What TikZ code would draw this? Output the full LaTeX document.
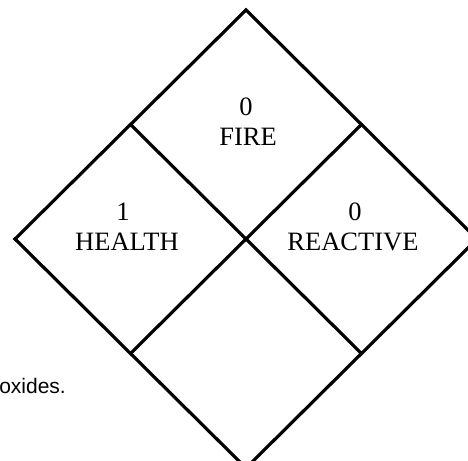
\documentclass[tikz,border=0pt]{standalone}
\usepackage{fontspec}
\usetikzlibrary{calc}
\setmainfont{Liberation Serif}
\newfontfamily\labelsans{Liberation Sans}
\begin{document}
\begin{tikzpicture}[x=1pt,y=-1pt,
  edge/.style={line width=3.2pt,line join=miter,line cap=butt,black},
  hazlabel/.style={font=\fontsize{26.5}{30}\selectfont,inner sep=0pt,anchor=base},
  notetext/.style={font=\labelsans\fontsize{21}{25}\selectfont,inner sep=0pt,anchor=base east}]
\useasboundingbox (0,0) rectangle (468,460);
\clip (0,0) rectangle (468,460);
\fill[white] (0,0) rectangle (468,460);
% diamond corners
\coordinate (T) at (246,10);
\coordinate (L) at (15,239);
\coordinate (R) at (477,239);
\coordinate (B) at (246,468);
\coordinate (C) at (246,239);
\coordinate (TL) at ($ (T)!0.5!(L) $);
\coordinate (TR) at ($ (T)!0.5!(R) $);
\coordinate (BL) at ($ (B)!0.5!(L) $);
\coordinate (BR) at ($ (B)!0.5!(R) $);
\draw[edge] (T) -- (R) -- (B) -- (L) -- cycle;
\draw[edge] (TL) -- (BR);
\draw[edge] (TR) -- (BL);
% labels
\node[hazlabel] (firenum) at (246,115) {0};
\node[hazlabel] (fire) at (248,145) {FIRE};
\node[hazlabel] (healthnum) at (123,220) {1};
\node[hazlabel] (health) at (127,250) {HEALTH};
\node[hazlabel] (reactnum) at (355,220) {0};
\node[hazlabel] (react) at (353,250) {REACTIVE};
\node[notetext] (note) at (66,393) {oxides.};
\end{tikzpicture}
\end{document}
